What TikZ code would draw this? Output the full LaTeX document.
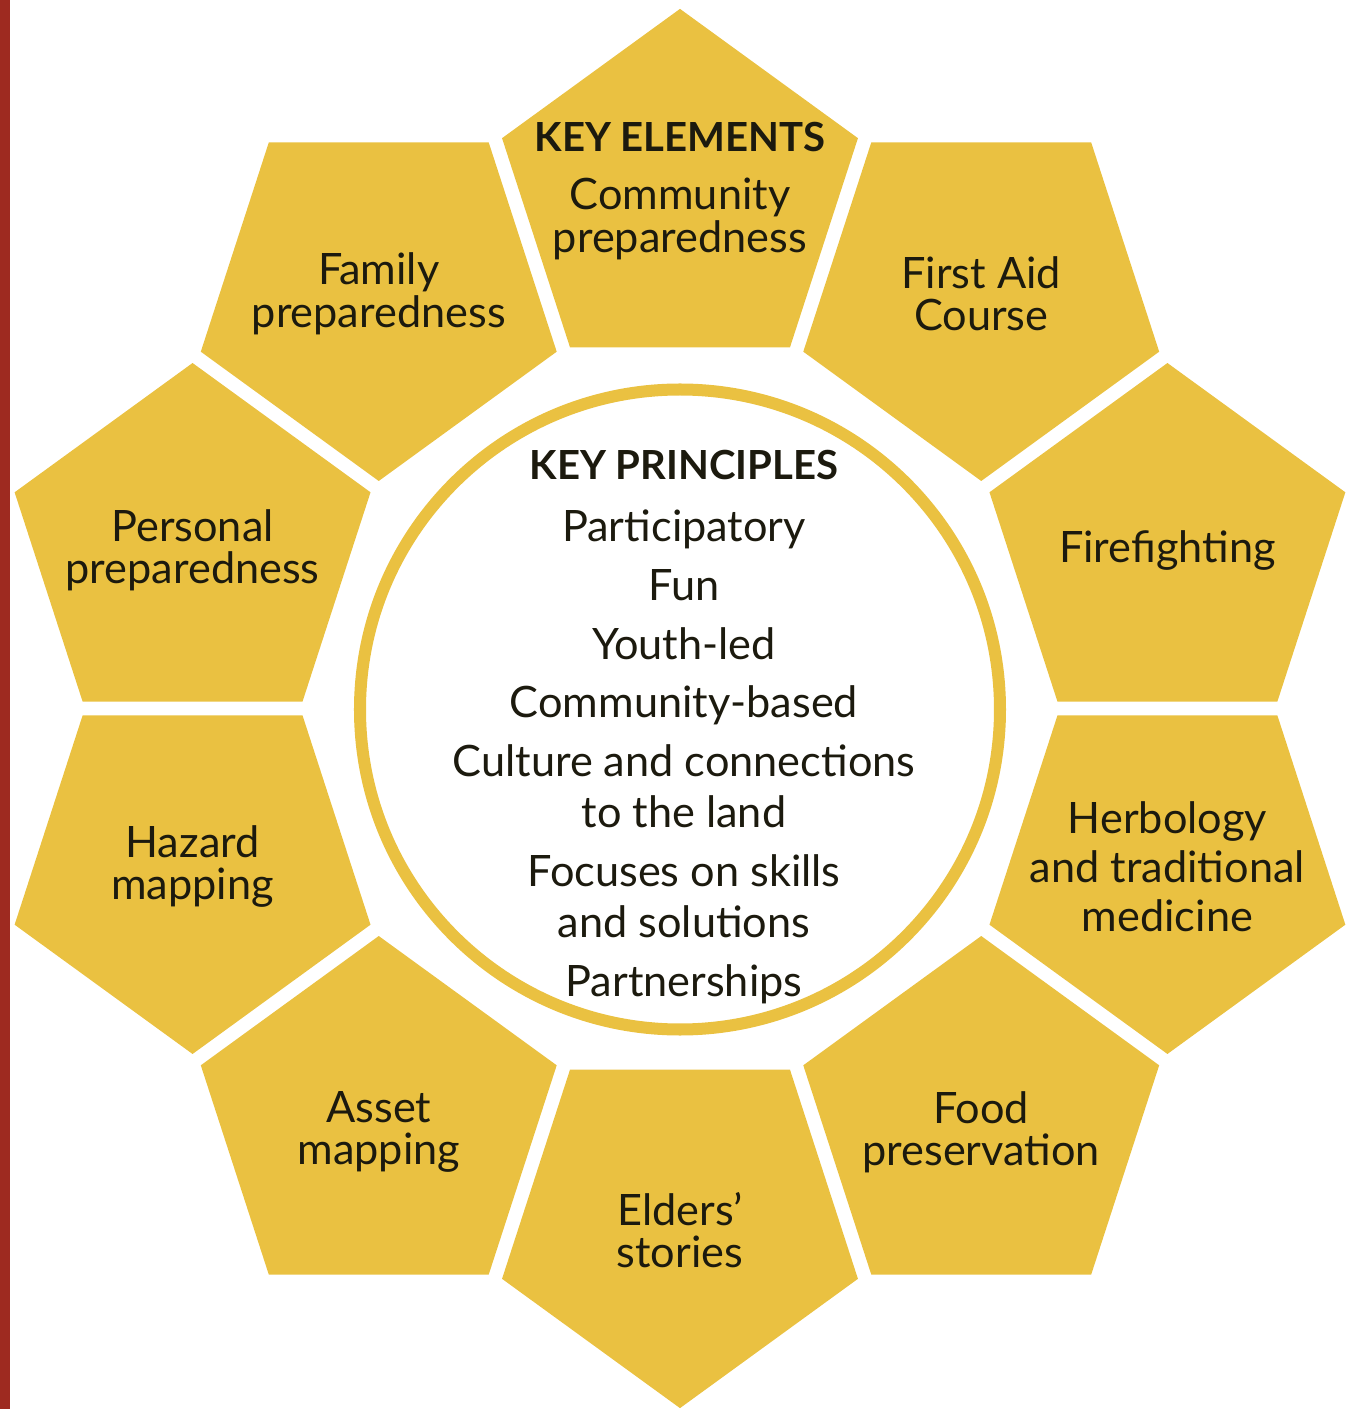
\documentclass[tikz,border=0pt]{standalone}
\usepackage{fontspec}
\setmainfont{Lato}
\usetikzlibrary{shapes.geometric}
\definecolor{petalyellow}{HTML}{EAC141}
\definecolor{barred}{HTML}{9E2A20}
\definecolor{inkdark}{HTML}{1C1A0E}
\newcommand{\keyhead}[1]{{\fontsize{11.4}{12}\selectfont\bfseries #1}}
\tikzset{
  petal/.style={regular polygon, regular polygon sides=5, minimum size=3.74cm, inner sep=0pt, fill=petalyellow},
  petaltext/.style={align=center, text=inkdark, inner sep=0pt, font=\fontsize{12.3}{12}\selectfont},
  principles/.style={align=center, text=inkdark, inner sep=0pt, font=\fontsize{12.3}{14.5}\selectfont}
}

\begin{document}
\begin{tikzpicture}[x=0.01cm, y=0.01cm]
 \useasboundingbox (-680,-700.5) rectangle (675,708.5);
 \fill[barred] (-680,-700.5) rectangle (-670,708.5);
 % ten key elements round the ring
 \foreach \a/\name/\dy/\txt in {
   90/community/5/{\keyhead{KEY ELEMENTS}\\[0.16cm]Community\\preparedness},
   54/firstaid/0/{First Aid\\Course},
   18/firefighting/0/{Firefighting},
   -18/herbology/0/{Herbology\\[0.07cm]and traditional\\[0.07cm]medicine},
   -54/food/-9/{Food\\preservation},
   -90/elders/-9/{Elders’\\stories},
   -126/asset/-9/{Asset\\mapping},
   -162/hazard/0/{Hazard\\mapping},
   162/personal/0/{Personal\\preparedness},
   126/family/0/{Family\\preparedness}} {
   \node[petal, shape border rotate=\a-90] (\name) at (\a:512.5) {};
   \node[petaltext, yshift=\dy*0.01cm] (\name-text) at (\name.center) {\txt};
 }
 % centre circle
 \draw[petalyellow, line width=0.12cm, fill=white] (0,-1) circle (320);
 \node[principles, anchor=north] (principles) at (4,259.5) {\keyhead{KEY PRINCIPLES}\\[0.11cm]Participatory\\[0.08cm]Fun\\[0.08cm]Youth-led\\[0.08cm]Community-based\\[0.08cm]Culture and connections\\to the land\\[0.08cm]Focuses on skills\\and solutions\\[0.08cm]Partnerships};
\end{tikzpicture}
\end{document}
